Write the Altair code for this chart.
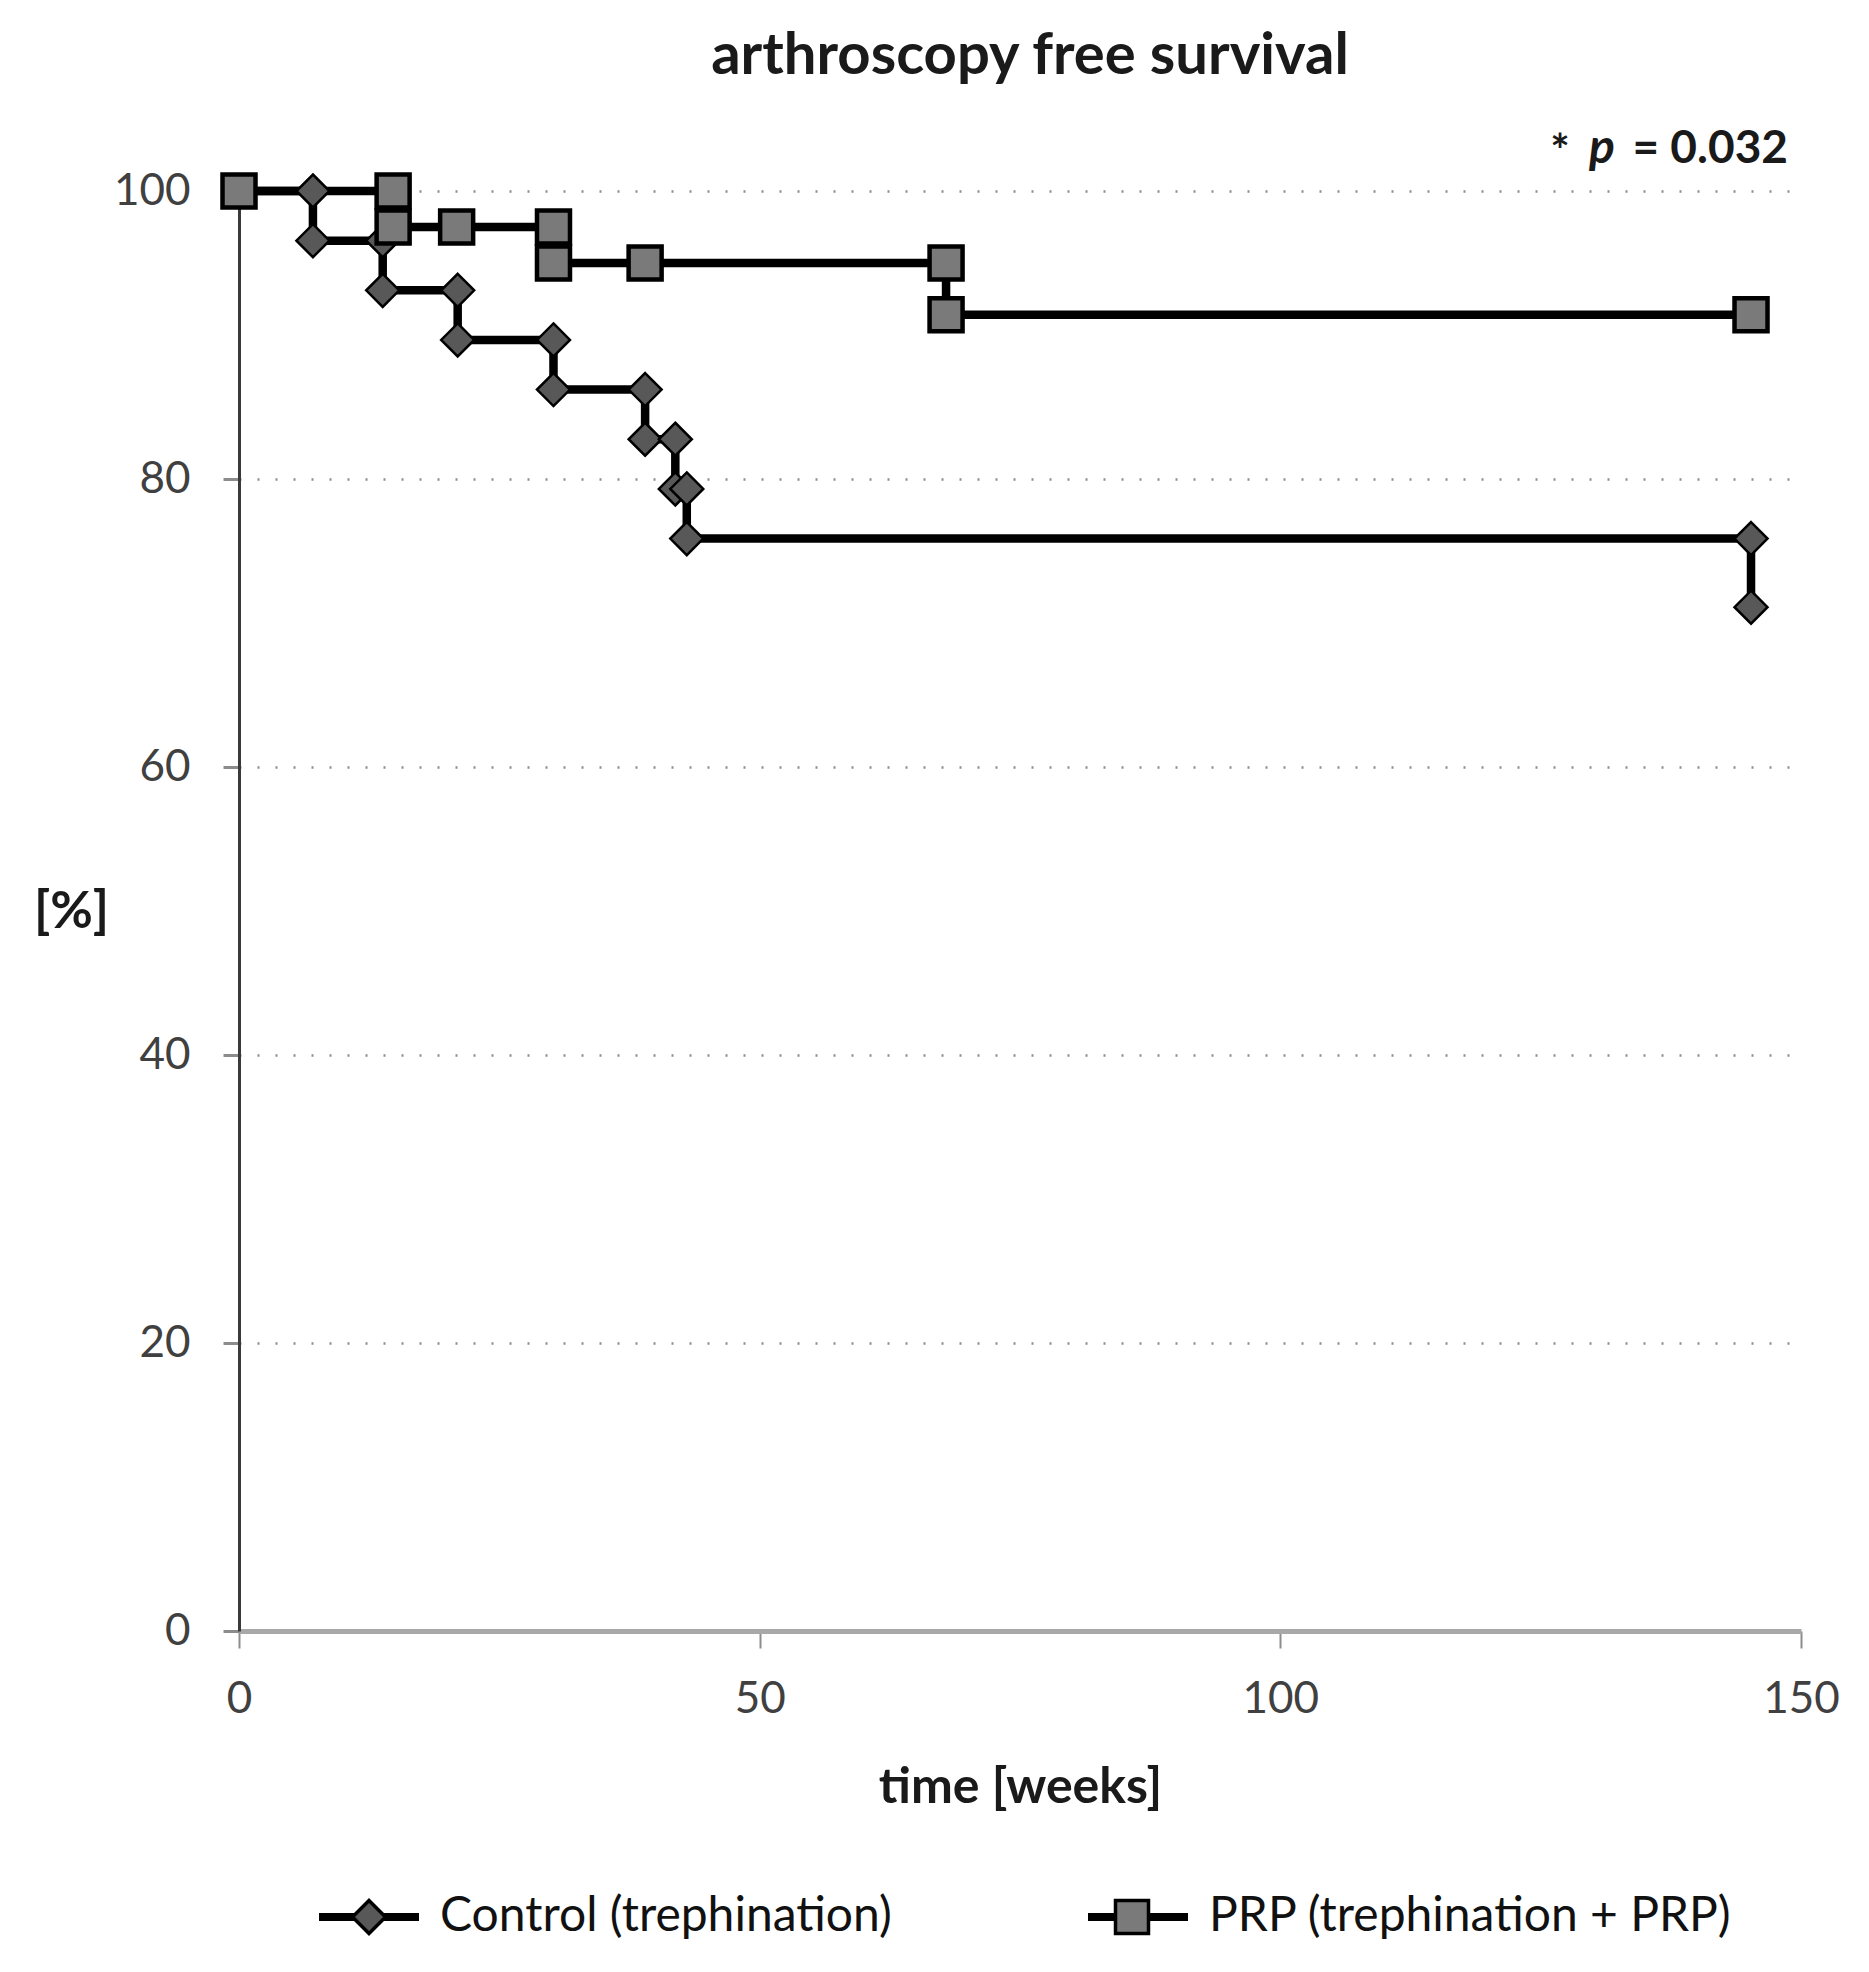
import altair as alt
import pandas as pd

# ---- data ----
series_names = ["Control (trephination)", "PRP (trephination + PRP)"]

ctrl_weeks = [0, 7.1, 7.1, 13.8, 13.8, 21.0, 21.0, 30.2, 30.2, 39.0, 39.0, 41.9, 41.9, 43.0, 43.0, 145.2, 145.2]
ctrl_surv = [100, 100, 96.55, 96.55, 93.10, 93.10, 89.66, 89.66, 86.21, 86.21, 82.76, 82.76, 79.31, 79.31, 75.86, 75.86, 71.1]

prp_weeks = [0, 14.8, 14.8, 20.9, 30.2, 30.2, 39.0, 67.9, 67.9, 145.2]
prp_surv = [100, 100, 97.5, 97.5, 97.5, 95.0, 95.0, 95.0, 91.4, 91.4]

x_ticks = [0, 50, 100, 150]
y_ticks = [0, 20, 40, 60, 80, 100]

chart_title = "arthroscopy free survival"
x_title = "time [weeks]"
y_title = "[%]"
p_parts = ["*", "p", "= 0.032"]

rows = []
for i, (t, s) in enumerate(zip(ctrl_weeks, ctrl_surv)):
    rows.append({"group": series_names[0], "t": t, "s": s, "i": i})
for i, (t, s) in enumerate(zip(prp_weeks, prp_surv)):
    rows.append({"group": series_names[1], "t": t, "s": s, "i": i})
df = pd.DataFrame(rows)
df["series"] = df["group"]  # separate field for the line legend (keeps the two legends apart)

FONT = "Lato"
DIAMOND = "M0,-0.33L0.33,0L0,0.33L-0.33,0Z"
SQUARE = "M-0.33,-0.33H0.33V0.33H-0.33Z"

x_enc = alt.X(
    "t:Q",
    scale=alt.Scale(domain=[0, 150], nice=False),
    axis=alt.Axis(
        values=x_ticks, title=x_title, grid=False, labelFlush=False,
        domainColor="#a8a8a8", domainWidth=5, tickColor="#8c8c8c", tickSize=17, tickWidth=2,
        labelFontSize=44, labelFont=FONT, labelColor="#404040", labelPadding=29,
        titleFontSize=50, titleFont=FONT, titleFontWeight="bold", titleColor="#1a1a1a",
        titleY=156, titleBaseline="middle",
    ),
)
y_enc = alt.Y(
    "s:Q",
    scale=alt.Scale(domain=[0, 100], nice=False),
    axis=alt.Axis(
        values=y_ticks, title=y_title, grid=True, labelFlush=False,
        gridDash=[2, 16], gridColor="#8c8c8c", gridWidth=2.5,
        domainColor="#3a3a3a", domainWidth=3, tickColor="#8c8c8c", tickSize=16, tickWidth=3,
        labelFontSize=44, labelFont=FONT, labelColor="#404040", labelPadding=33,
        titleFontSize=52, titleFont=FONT, titleFontWeight="bold", titleColor="#1a1a1a",
        titleAngle=0, titleX=-168, titleY=720, titleAlign="center", titleBaseline="middle",
    ),
)

legend_line = alt.Legend(
    title=None, orient="none", legendX=76, legendY=1672, direction="horizontal",
    symbolType="stroke", symbolStrokeWidth=8, symbolSize=10000, padding=0,
    labelFontSize=48, labelFont=FONT, labelColor="#111111", labelOffset=17,
    columnPadding=180, labelLimit=0,
)
legend_marker = alt.Legend(
    title=None, orient="none", legendX=78, legendY=1674, direction="horizontal",
    symbolSize=10000, symbolStrokeWidth=3.5, symbolStrokeColor="black", padding=0,
    labelExpr="''", labelOffset=0, labelFontSize=48,
    columnPadding=659, labelLimit=0,
)

lines = alt.Chart(df).mark_line(strokeWidth=8.5).encode(
    x=x_enc,
    y=y_enc,
    color=alt.Color("series:N", scale=alt.Scale(range=["black", "black"]), legend=legend_line),
    order=alt.Order("i:Q"),
)

points = alt.Chart(df).mark_point(filled=True, size=10000, opacity=1).encode(
    x=x_enc,
    y=y_enc,
    shape=alt.Shape("group:N", scale=alt.Scale(domain=series_names, range=[DIAMOND, SQUARE]), legend=legend_marker),
    fill=alt.Fill("group:N", scale=alt.Scale(domain=series_names, range=["#585858", "#7a7a7a"]), legend=legend_marker),
    stroke=alt.Stroke("group:N", scale=alt.Scale(domain=series_names, range=["black", "black"]), legend=legend_marker),
    strokeWidth=alt.condition(alt.datum.group == series_names[1], alt.value(4.5), alt.value(2.5)),
)

pdf = pd.DataFrame({"label": p_parts})
star = alt.Chart(pdf).transform_filter(alt.datum.label == p_parts[0]).mark_text(
    font=FONT, fontSize=46, fontWeight="bold", align="center", baseline="middle", color="#1a1a1a"
).encode(text="label:N", x=alt.value(1321), y=alt.value(-38))
pch = alt.Chart(pdf).transform_filter(alt.datum.label == p_parts[1]).mark_text(
    font=FONT, fontSize=48, fontWeight="bold", fontStyle="italic", align="center", baseline="middle", color="#1a1a1a"
).encode(text="label:N", x=alt.value(1363), y=alt.value(-42))
pval = alt.Chart(pdf).transform_filter(alt.datum.label == p_parts[2]).mark_text(
    font=FONT, fontSize=46, fontWeight="bold", align="right", baseline="middle", color="#1a1a1a"
).encode(text="label:N", x=alt.value(1549), y=alt.value(-42))

chart = (
    alt.layer(lines, points, star, pch, pval)
    .properties(
        width=1562,
        height=1440,
        title=alt.TitleParams(
            chart_title, fontSize=58, font=FONT, fontWeight="bold", color="#1a1a1a",
            anchor="middle", frame="group", offset=-7, baseline="alphabetic", dx=10,
        ),
        autosize=alt.AutoSizeParams(type="none"),
        padding={"left": 231, "top": 183, "right": 60, "bottom": 333},
    )
    .configure_view(stroke=None)
)

chart.save("out.html", embed_options={"renderer": "svg", "actions": False})
